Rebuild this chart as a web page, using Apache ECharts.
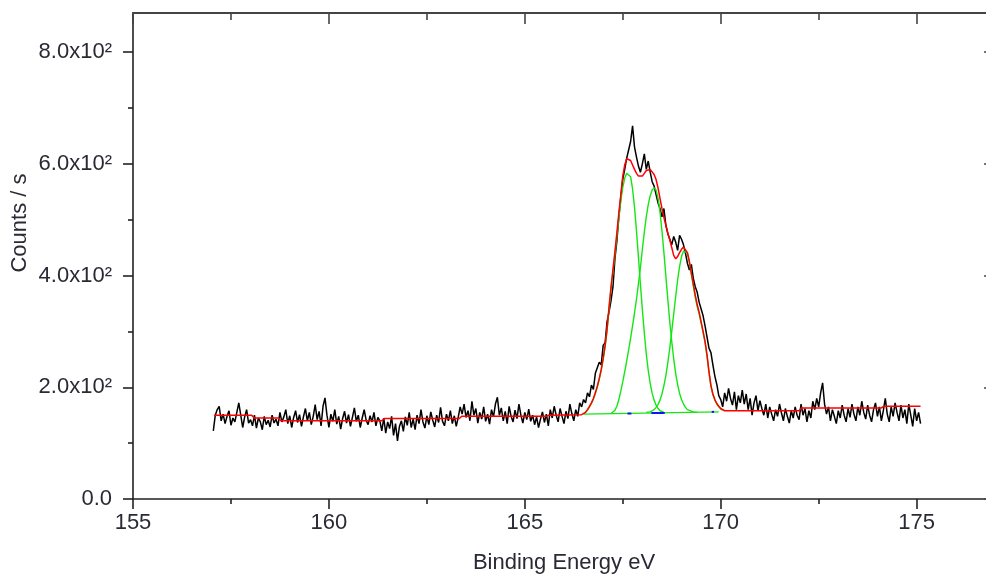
<!DOCTYPE html>
<html>
<head>
<meta charset="utf-8">
<script src="https://cdn.jsdelivr.net/npm/echarts@6/dist/echarts.min.js"></script>
<style>
html,body{margin:0;padding:0;background:#fff;overflow:hidden;}
#chart{width:986px;height:578px;}
</style>
</head>
<body>
<div id="chart"></div>
<script>
// ---- data ----
const energyStart = 157.05;
const energyStep = 0.05;
const measuredCounts = [
  122,150,160,166,140,152,135,148,158,132,145,138,155,172,150,128,147,160,136,142,
  131,150,127,145,138,124,148,133,141,129,150,136,143,131,155,138,147,160,135,149,
  128,146,158,137,151,130,147,162,140,155,133,148,169,142,157,131,166,181,150,128,
  152,139,160,134,148,125,144,157,136,151,130,146,163,139,150,128,145,160,141,133,
  149,138,155,131,146,140,122,145,118,138,126,148,114,135,104,130,140,121,147,132,
  155,128,143,124,150,135,160,138,127,149,133,156,141,129,150,137,164,139,131,152,
  140,158,135,149,130,146,165,152,170,146,158,140,175,150,162,136,155,143,165,139,
  152,134,160,147,170,182,150,163,140,157,135,166,148,138,159,144,170,150,136,155,
  142,161,139,150,133,147,128,143,156,137,152,131,160,145,166,150,138,162,148,135,
  157,144,170,153,140,160,148,172,165,178,172,190,183,204,196,225,228,245,240,275,
  280,318,335,355,380,430,462,505,540,572,590,610,612,640,668,630,612,596,585,600,
  618,590,605,585,568,560,545,530,520,505,520,490,475,465,455,470,460,445,472,465,
  455,440,422,410,420,395,380,370,352,340,328,310,290,270,262,240,220,205,185,178,
  165,190,175,198,180,168,192,160,185,172,195,170,188,160,180,150,172,185,158,176,
  162,150,170,145,165,152,140,160,148,170,154,140,162,148,136,158,145,165,150,142,
  170,150,162,138,158,145,175,160,180,165,190,208,170,152,165,140,160,148,135,158,
  145,168,150,138,162,146,170,152,140,165,150,175,155,143,168,150,138,160,172,148,
  165,140,158,180,152,138,165,148,172,155,140,168,145,160,135,170,150,130,162,140,
  155,135
];

const envelopeFit = [
  [157.07,150],[158.03,150],[158.09,145],[158.71,145],[158.77,140],[161.35,140],[161.41,144],
  [163.33,144],[163.39,148],[165.55,148],[165.61,150],[166.45,151],
  [166.50,152],[166.55,155],[166.60,160],[166.65,166],[166.70,172],[166.75,180],[166.80,190],
  [166.85,202],[166.90,216],[166.95,232],[167.00,252],[167.05,275],[167.10,305],[167.15,344],
  [167.20,380],[167.25,411],[167.30,443],[167.35,477],[167.40,512],[167.45,545],[167.50,578],
  [167.55,598],[167.60,609],[167.65,611],[167.70,606],[167.75,598],[167.80,590],[167.85,583],
  [167.90,578],[167.95,576],[168.00,578],[168.05,583],[168.10,588],[168.15,590],[168.20,590],
  [168.25,587],[168.30,581],[168.35,572],[168.40,557],[168.45,538],[168.50,520],[168.55,504],
  [168.60,490],[168.65,476],[168.70,464],[168.75,450],[168.80,436],[168.85,430],[168.90,434],
  [168.95,441],[169.00,447],[169.05,451],[169.10,450],[169.15,441],[169.20,425],[169.25,405],
  [169.30,385],[169.35,365],[169.40,348],[169.45,334],[169.50,317],[169.55,300],[169.60,282],
  [169.65,258],[169.70,228],[169.75,203],[169.80,188],[169.85,178],[169.90,171],[169.95,166],
  [170.00,162],[170.05,160],[170.10,158],[172.00,158],[172.06,163],[174.10,163],[174.16,166],
  [175.10,166]
];

const component1 = [
  [166.50,152],[166.55,155],[166.60,159],[166.65,165],[166.70,171],[166.75,179],[166.80,189],
  [166.85,200],[166.90,214],[166.95,230],[167.00,250],[167.05,273],[167.10,302],[167.15,340],
  [167.20,376],[167.25,407],[167.30,438],[167.35,470],[167.40,503],[167.45,533],[167.50,558],
  [167.55,574],[167.60,583],[167.65,585],[167.70,577],[167.75,555],[167.80,522],[167.85,480],
  [167.90,433],[167.95,385],[168.00,339],[168.05,297],[168.10,260],[168.15,230],[168.20,207],
  [168.25,189],[168.30,177],[168.35,168],[168.40,162],[168.45,158],[168.50,156],[168.55,155]
];
const component2 = [
  [167.20,153],[167.25,155],[167.30,159],[167.35,166],[167.40,178],[167.45,193],[167.50,210],
  [167.55,228],[167.60,247],[167.65,267],[167.70,288],[167.75,310],[167.80,333],[167.85,358],
  [167.90,385],[167.95,414],[168.00,447],[168.05,478],[168.10,505],[168.15,527],[168.20,543],
  [168.25,553],[168.30,557],[168.35,553],[168.40,539],[168.45,514],[168.50,480],[168.55,441],
  [168.60,399],[168.65,357],[168.70,317],[168.75,282],[168.80,251],[168.85,225],[168.90,205],
  [168.95,189],[169.00,178],[169.05,170],[169.10,164],[169.15,160],[169.20,158],[169.30,156],
  [169.40,155]
];
const component3 = [
  [168.10,155],[168.20,156],[168.25,157],[168.30,160],[168.35,164],[168.40,169],[168.45,177],
  [168.50,188],[168.55,203],[168.60,221],[168.65,244],[168.70,270],[168.75,300],[168.80,331],
  [168.85,362],[168.90,392],[168.95,416],[169.00,434],[169.05,444],[169.10,446],[169.15,440],
  [169.20,424],[169.25,402],[169.30,381],[169.35,361],[169.40,344],[169.45,331],[169.50,315],
  [169.55,298],[169.60,280],[169.65,256],[169.70,227],[169.75,202],[169.80,187],[169.85,177],
  [169.90,170],[169.95,165],[170.00,161],[170.05,159]
];
const backgroundLine = [[166.50,152],[169.95,156]];
const peakMarks = [
  [[167.62,153],[167.72,153]],
  [[168.23,154],[168.57,154]],
  [[169.77,156],[169.83,156]]
];

const energyMajorTicks = [155,160,165,170,175];
const energyMinorTicks = [157.5,162.5,167.5,172.5];
const countMajorTicks = [0,200,400,600,800];
const countMinorTicks = [100,300,500,700];
const countTickLabels = ['0.0','2.0x10\u00B2','4.0x10\u00B2','6.0x10\u00B2','8.0x10\u00B2'];
const xTitle = 'Binding Energy eV';
const yTitle = 'Counts / s';

// ---- chart ----
const FONT = "'Liberation Sans', Arial, sans-serif";
const AX = '#222';
const TXT = '#2a2a35';
const measured = measuredCounts.map((c, i) => [+(energyStart + i * energyStep).toFixed(2), c]);

function xAx(opts) {
  return Object.assign({
    type: 'value', min: 155, max: 177, gridIndex: 0,
    splitLine: { show: false },
    axisLine: { show: false, onZero: false },
    axisLabel: { show: false },
    axisTick: { show: false }
  }, opts);
}
function yAx(opts) {
  return Object.assign({
    type: 'value', min: 0, max: 870, gridIndex: 0,
    splitLine: { show: false },
    axisLine: { show: false, onZero: false },
    axisLabel: { show: false },
    axisTick: { show: false }
  }, opts);
}

const series = [
  { type: 'line', name: 'data', data: measured, showSymbol: false, symbol: 'none',
    lineStyle: { color: '#000', width: 1.5 }, z: 2, animation: false },
  { type: 'line', name: 'bg', data: backgroundLine, symbol: 'none',
    lineStyle: { color: '#14e614', width: 1.4 }, z: 3, animation: false },
  { type: 'line', name: 'c1', data: component1, symbol: 'none',
    lineStyle: { color: '#14e614', width: 1.4 }, z: 3, animation: false },
  { type: 'line', name: 'c2', data: component2, symbol: 'none',
    lineStyle: { color: '#14e614', width: 1.4 }, z: 3, animation: false },
  { type: 'line', name: 'c3', data: component3, symbol: 'none',
    lineStyle: { color: '#14e614', width: 1.4 }, z: 3, animation: false },
  { type: 'line', name: 'fit', data: envelopeFit, symbol: 'none',
    lineStyle: { color: '#ff0000', width: 1.5 }, z: 4, animation: false }
];
peakMarks.forEach((seg, i) => series.push({
  type: 'line', name: 'mark' + i, data: seg, symbol: 'none',
  lineStyle: { color: '#1010ff', width: 2 }, z: 5, animation: false
}));

const option = {
  backgroundColor: '#ffffff',
  animation: false,
  grid: { left: 133, top: 13, width: 862, height: 486, containLabel: false, outerBoundsMode: 'none' },
  xAxis: [
    xAx({ position: 'bottom',
      axisLine: { show: true, onZero: false, lineStyle: { color: AX, width: 1.6 } },
      axisTick: { show: true, inside: false, length: 10, customValues: energyMajorTicks,
        lineStyle: { color: AX, width: 1.6 } },
      axisLabel: { show: true, customValues: energyMajorTicks, margin: 13,
        color: TXT, fontSize: 22, fontFamily: FONT },
      name: xTitle, nameLocation: 'middle', nameGap: 53,
      nameTextStyle: { color: TXT, fontSize: 22, fontFamily: FONT } }),
    xAx({ position: 'bottom',
      axisTick: { show: true, inside: false, length: 5, customValues: energyMinorTicks,
        lineStyle: { color: AX, width: 1.6 } } }),
    xAx({ position: 'top',
      axisLine: { show: true, onZero: false, lineStyle: { color: '#444', width: 2 } },
      axisTick: { show: true, inside: true, length: 11, customValues: energyMajorTicks,
        lineStyle: { color: '#444', width: 1.6 } } }),
    xAx({ position: 'top',
      axisTick: { show: true, inside: true, length: 7, customValues: energyMinorTicks,
        lineStyle: { color: '#444', width: 1.6 } } })
  ],
  yAxis: [
    yAx({ position: 'left',
      axisLine: { show: true, onZero: false, lineStyle: { color: AX, width: 1.6 } },
      axisTick: { show: true, inside: false, length: 10, customValues: countMajorTicks,
        lineStyle: { color: AX, width: 1.6 } },
      axisLabel: { show: true, customValues: countMajorTicks, margin: 21,
        color: TXT, fontSize: 22, fontFamily: FONT,
        formatter: v => countTickLabels[countMajorTicks.indexOf(v)] } }),
    yAx({ position: 'left',
      axisTick: { show: true, inside: false, length: 5, customValues: countMinorTicks,
        lineStyle: { color: AX, width: 1.6 } } }),
    yAx({ position: 'right',
      axisLine: { show: false, onZero: false },
      axisTick: { show: true, inside: true, length: 11, customValues: countMajorTicks,
        lineStyle: { color: '#444', width: 1.6 } } })
  ],
  graphic: [{
    type: 'text', x: 20, y: 223, rotation: Math.PI / 2,
    style: { text: yTitle, fill: TXT, font: '22px ' + FONT,
      align: 'center', verticalAlign: 'middle' }
  }],
  series: series
};

const chart = echarts.init(document.getElementById('chart'), null, { renderer: 'canvas' });
chart.setOption(option);
</script>
</body>
</html>
